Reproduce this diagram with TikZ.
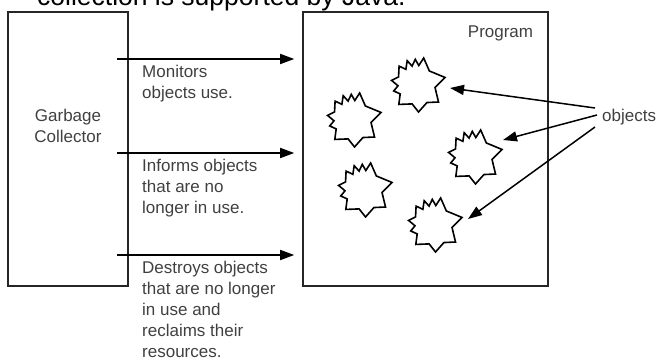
\documentclass[tikz,border=0pt]{standalone}
\usepackage{fontspec}
\setmainfont{Liberation Sans}
\usetikzlibrary{arrows.meta,calc}
\tikzset{
  box/.style={draw=black!85, line width=1.6pt, inner sep=0pt},
  txt/.style={inner sep=0pt, text=black!75, font=\fontsize{17}{21}\selectfont},
  lbl/.style={txt, anchor=base west, align=left},
  arr/.style={draw=black, line width=1.5pt, -{Triangle[length=14pt,width=10pt]}},
  blob/.pic={
    \draw[line width=1.6pt, fill=white]
      (0.21,-1.0) -- (0.42,-0.52) -- (1.0,-0.28) -- (0.63,0.09) -- (0.76,0.63)
      -- (0.33,0.65) -- (0.02,1.0) -- (-0.22,0.7) -- (-0.71,0.72) -- (-0.66,0.33)
      -- (-0.9,0.22) -- (-0.74,0.03) -- (-0.98,-0.17) -- (-0.72,-0.3)
      -- (-0.7,-0.7) -- (-0.45,-0.58) -- (-0.4,-0.9) -- (-0.22,-0.7)
      -- (-0.1,-0.95) -- (0.03,-0.72) -- cycle;
  }
}
\begin{document}
\begin{tikzpicture}[x=1pt,y=-1pt]
\useasboundingbox (0,0) rectangle (659,358);
\clip (0,0) rectangle (659,358);
\node[anchor=base west, inner sep=0pt, font=\fontsize{26.5}{30}\selectfont] (cap) at (37,6) {collection is supported by Java.};
% boxes
\node[box, minimum width=120pt, minimum height=274pt] (gc) at (68,149) {};
\node[txt, align=center] (gct) at (68,126) {Garbage\\Collector};
\node[box, minimum width=245pt, minimum height=274pt] (prog) at (425.5,149) {};
\node[txt] (progt) at (500.5,33) {Program};
% arrows from collector
\coordinate (s1) at (117,59);
\coordinate (s2) at (117,153);
\coordinate (s3) at (117,255);
\draw[arr, shorten >=8pt] (s1) -- (s1 -| prog.west);
\draw[arr, shorten >=8pt] (s2) -- (s2 -| prog.west);
\draw[arr, shorten >=8pt] (s3) -- (s3 -| prog.west);
% labels (anchored at the baseline of their last line)
\node[lbl] (l1) at (142,99) {Monitors\\objects use.};
\node[lbl] (l2) at (142,214) {Informs objects\\that are no\\longer in use.};
\node[lbl] (l3) at (142,357) {Destroys objects\\that are no longer\\in use and\\reclaims their\\resources.};
% objects
\pic[scale=27] at (418,85) {blob};
\pic[scale=27] at (354,120) {blob};
\pic[scale=27] at (475,157) {blob};
\pic[scale=27] at (365,190) {blob};
\pic[scale=27] at (435,225) {blob};
\coordinate (t1) at (450,88);
\coordinate (t2) at (503,140);
\coordinate (t3) at (468,219);
\node[txt, anchor=west] (obj) at (602,117) {objects};
\draw[arr] ($(obj.west)+(-7,-9)$) -- (t1);
\draw[arr] ($(obj.west)+(-5,-2)$) -- (t2);
\draw[arr] ($(obj.west)+(-7,10)$) -- (t3);
\end{tikzpicture}
\end{document}
